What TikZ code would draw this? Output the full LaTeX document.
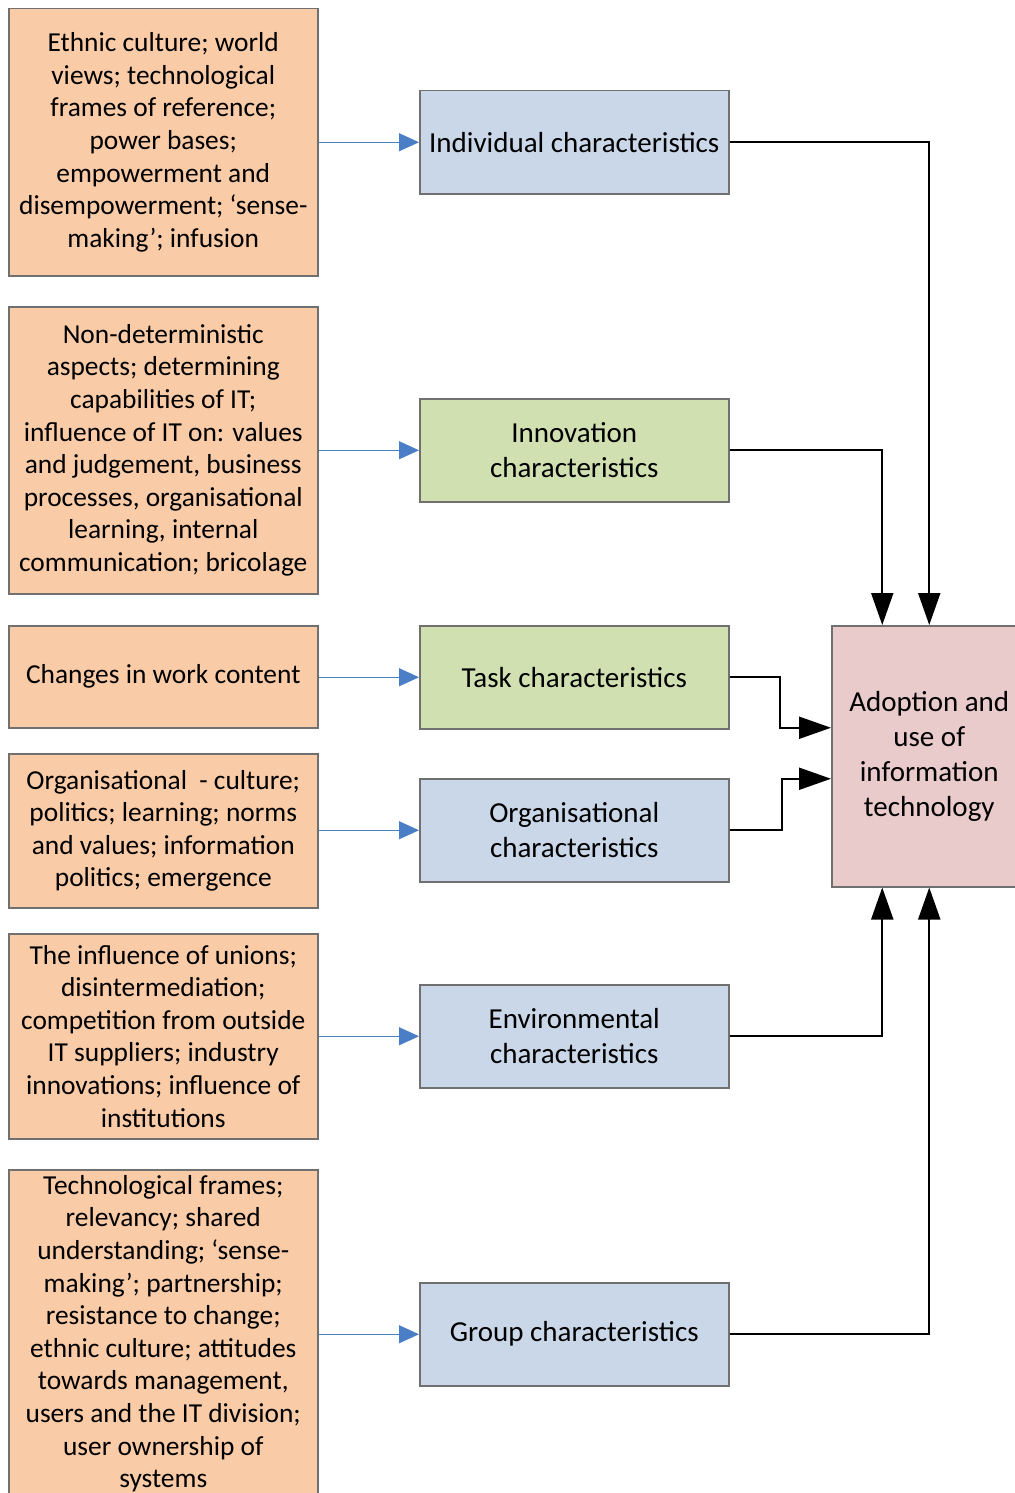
\documentclass[tikz,border=0pt]{standalone}
\usepackage{fontspec}
\setmainfont{Carlito}
\usetikzlibrary{arrows.meta,calc}
\definecolor{peach}{RGB}{249,203,167}
\definecolor{paleblue}{RGB}{201,215,232}
\definecolor{palegreen}{RGB}{208,224,177}
\definecolor{palepink}{RGB}{233,203,203}
\definecolor{edgegray}{RGB}{112,112,112}
\definecolor{linkblue}{RGB}{74,126,199}
\tikzset{
  box/.style={draw=edgegray, line width=0.75pt, align=center, inner sep=0pt,
    minimum width=154.5pt, anchor=north west,
    font=\fontsize{14.5}{17.5}\selectfont},
  srcbox/.style={box, fill=peach, font=\fontsize{13.7}{16.3}\selectfont},
  facbox/.style={box, fill=paleblue, minimum height=51.5pt},
  greenbox/.style={facbox, fill=palegreen},
  feed/.style={draw=linkblue, line width=0.5pt,
    -{Triangle[length=10pt,width=9pt]}},
  linkarrow/.style={draw=black, line width=1pt,
    -{Triangle[length=16pt,width=11pt]}}
}
\begin{document}
\begin{tikzpicture}[x=0.5pt,y=-0.5pt]
\useasboundingbox (0,0) rectangle (1015,1493);
\clip (0,0) rectangle (1015,1493);

% source boxes (left column)
\node[srcbox, minimum height=133.5pt] (s1) at (8,8)
  {Ethnic culture; world\\views; technological\\frames of reference;\\power bases;\\empowerment and\\disempowerment; ‘sense-\\making’; infusion};
\node[srcbox, minimum height=143.5pt] (s2) at (8,306)
  {Non-deterministic\\aspects; determining\\capabilities of IT;\\influence of IT on: values\\and judgement, business\\processes, organisational\\learning, internal\\communication; bricolage};
\node[srcbox, minimum height=51pt] (s3) at (8,625)
  {Changes in work content};
\node[srcbox, minimum height=77pt] (s4) at (8,753)
  {Organisational\ \ - culture;\\politics; learning; norms\\and values; information\\politics; emergence};
\node[srcbox, minimum height=102.5pt] (s5) at (8,933)
  {The influence of unions;\\disintermediation;\\competition from outside\\IT suppliers; industry\\innovations; influence of\\institutions};
\node[srcbox, minimum height=164pt] (s6) at (8,1169)
  {Technological frames;\\relevancy; shared\\understanding; ‘sense-\\making’; partnership;\\resistance to change;\\ethnic culture; attitudes\\towards management,\\users and the IT division;\\user ownership of\\systems};

% characteristic boxes (middle column)
\node[facbox] (ind) at (419,90) {Individual characteristics};
\node[greenbox] (inn) at (419,398) {Innovation\\characteristics};
\node[greenbox] (task) at (419,625) {Task characteristics};
\node[facbox] (org) at (419,778) {Organisational\\characteristics};
\node[facbox] (env) at (419,984) {Environmental\\characteristics};
\node[facbox] (grp) at (419,1282) {Group characteristics};

% outcome box (right)
\node[box, fill=palepink, minimum width=97.5pt, minimum height=130.5pt] (adopt) at (831,625)
  {Adoption and\\use of\\information\\technology};

% feeds from sources to characteristics
\foreach \s/\m in {s1/ind, s2/inn, s3/task, s4/org, s5/env, s6/grp}
  \draw[feed] (\s.east |- \m.west) -- (\m.west);

% characteristics into adoption
\draw[linkarrow] (ind.east) -| (adopt.north);
\draw[linkarrow] (inn.east) -| ([xshift=-23.5pt]adopt.north);
\draw[linkarrow] (task.east) -- ++(50,0) |- ($(adopt.west)+(0,-28.5)$);
\draw[linkarrow] (org.east) -- ++(52,0) |- ($(adopt.west)+(0,22.5)$);
\draw[linkarrow] (env.east) -| ([xshift=-23.5pt]adopt.south);
\draw[linkarrow] (grp.east) -| (adopt.south);
\end{tikzpicture}
\end{document}
